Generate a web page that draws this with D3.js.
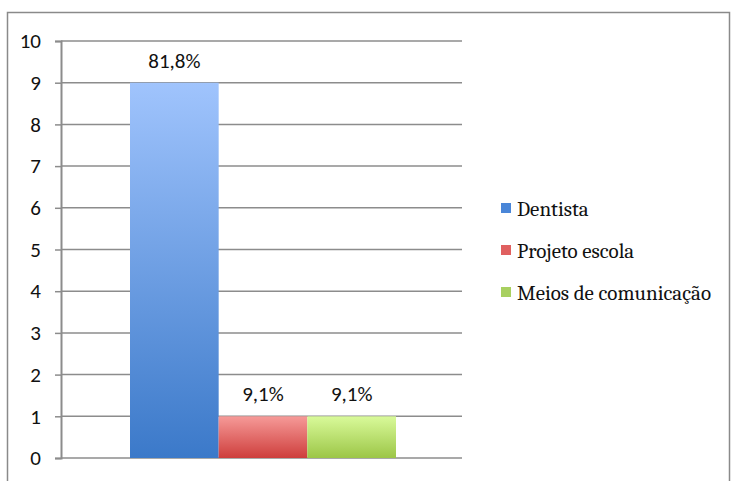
<!DOCTYPE html>
<html>
<head>
<meta charset="utf-8">
<script src="https://cdn.jsdelivr.net/npm/d3@7"></script>
<style>
  body { margin: 0; background: #fff; }
  svg { display: block; }
</style>
</head>
<body>
<svg id="chart" width="731" height="481"></svg>
<script>
const series = ["Dentista", "Projeto escola", "Meios de comunicação"];
const values = [9, 1, 1];
const labels = ["81,8%", "9,1%", "9,1%"];
const yTicks = [0, 1, 2, 3, 4, 5, 6, 7, 8, 9, 10];
const topColors = ["#a0c4fd", "#f69a98", "#d9fa9a"];
const bottomColors = ["#3b79c9", "#ce3e3c", "#9cc647"];
const legendColors = ["#4a86d8", "#e06060", "#a8d060"];

const svg = d3.select("#chart");

// outer frame
svg.append("rect")
    .attr("x", 7.5).attr("y", 12.5)
    .attr("width", 722).attr("height", 480)
    .attr("fill", "none")
    .attr("stroke", "#8a8a8a")
    .attr("stroke-width", 1.5);

const plotLeft = 61, plotRight = 462, plotTop = 41, plotBottom = 458;

const y = d3.scaleLinear().domain([0, 10]).range([plotBottom, plotTop]);
const x = d3.scaleBand().domain(series).range([130, 396]).padding(0);

const defs = svg.append("defs");
series.forEach((s, i) => {
    const g = defs.append("linearGradient")
        .attr("id", "grad" + i)
        .attr("x1", 0).attr("y1", 0).attr("x2", 0).attr("y2", 1);
    g.append("stop").attr("offset", "0%").attr("stop-color", topColors[i]);
    g.append("stop").attr("offset", "100%").attr("stop-color", bottomColors[i]);
});

// gridlines
svg.append("g")
    .selectAll("line")
    .data(yTicks)
    .enter()
    .append("line")
    .attr("x1", plotLeft).attr("x2", plotRight)
    .attr("y1", d => y(d)).attr("y2", d => y(d))
    .attr("stroke", "#8c8c8c")
    .attr("stroke-width", 1.5);

const sansFont = "Carlito, 'Liberation Sans', sans-serif";
const serifFont = "Caladea, 'Liberation Serif', serif";

// y axis
const yAxis = d3.axisLeft(y).tickValues(yTicks).tickSize(6).tickPadding(14);
const ga = svg.append("g")
    .attr("transform", `translate(${plotLeft},0)`)
    .call(yAxis);
ga.select(".domain").attr("stroke", "#8c8c8c").attr("stroke-width", 2);
ga.selectAll(".tick line").attr("stroke", "#8c8c8c").attr("stroke-width", 1.5);
ga.selectAll(".tick text")
    .attr("fill", "#111")
    .style("font-family", sansFont)
    .style("font-size", "21px");

// bars
svg.selectAll(".bar")
    .data(series)
    .enter()
    .append("rect")
    .attr("class", "bar")
    .attr("x", d => x(d))
    .attr("y", (d, i) => y(values[i]))
    .attr("width", x.bandwidth())
    .attr("height", (d, i) => y(0) - y(values[i]))
    .attr("fill", (d, i) => `url(#grad${i})`);

// data labels
svg.selectAll(".lbl")
    .data(series)
    .enter()
    .append("text")
    .attr("class", "lbl")
    .attr("x", d => x(d) + x.bandwidth() / 2)
    .attr("y", (d, i) => y(values[i]) - 15)
    .attr("text-anchor", "middle")
    .attr("fill", "#111")
    .style("font-family", sansFont)
    .style("font-size", "21px")
    .text((d, i) => labels[i]);

// legend
const lg = svg.append("g");
series.forEach((s, i) => {
    const ly = 216 + i * 42;
    lg.append("rect")
        .attr("x", 501).attr("y", ly - 13)
        .attr("width", 10).attr("height", 10)
        .attr("fill", legendColors[i]);
    lg.append("text")
        .attr("x", 517).attr("y", ly)
        .attr("fill", "#111")
        .style("font-family", serifFont)
        .style("font-size", "21px")
        .text(s);
});
</script>
</body>
</html>
